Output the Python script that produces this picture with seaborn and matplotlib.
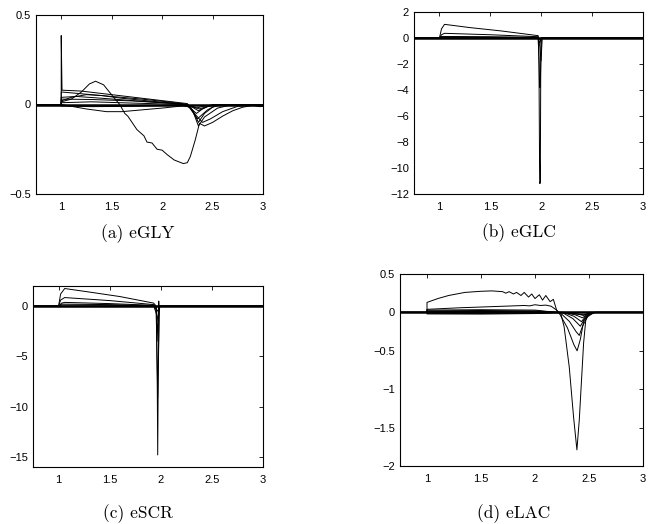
import numpy as np
import pandas as pd
import matplotlib
matplotlib.use("Agg")
import matplotlib.pyplot as plt
import seaborn as sns

# ---------------- data ----------------
panel_titles = ["(a) eGLY", "(b) eGLC", "(c) eSCR", "(d) eLAC"]

eGLY_x = [
    [0.75, 1.0, 1.0, 1.008, 1.2, 1.5, 1.8, 2.1, 2.25, 2.3, 2.36, 2.42, 2.55, 2.7, 3.0],
    [0.75, 1.0, 1.0, 1.1, 1.2, 1.28, 1.34, 1.42, 1.52, 1.58, 1.63, 1.66, 1.69, 1.75, 1.82,
     1.85, 1.9, 1.95, 2.0, 2.05, 2.12, 2.21, 2.25, 2.28, 2.33, 2.37, 2.42, 2.5, 2.6, 2.7,
     2.8, 2.9, 2.97, 3.0],
    [0.75, 1.0, 1.0, 1.2, 1.5, 1.8, 2.1, 2.25, 2.31, 2.36, 2.42, 2.5, 2.6, 3.0],
    [0.75, 1.0, 1.0, 1.1, 1.25, 1.4, 1.6, 1.9, 2.2, 2.28, 2.34, 2.4, 2.5, 3.0],
    [0.75, 1.0, 1.0, 1.15, 1.4, 1.7, 2.0, 2.25, 2.3, 2.35, 2.45, 2.55, 3.0],
    [0.75, 1.0, 1.1, 1.25, 1.45, 1.6, 1.8, 2.0, 2.2, 2.3, 2.36, 2.45, 2.6, 3.0],
    [0.75, 1.0, 1.0, 1.3, 1.7, 2.2, 2.3, 2.37, 2.45, 2.55, 3.0],
    [0.75, 1.0, 1.0, 1.3, 1.7, 2.2, 2.29, 2.34, 2.42, 2.55, 3.0],
    [0.75, 1.0, 1.0, 1.3, 1.7, 2.0, 2.25, 2.32, 2.4, 2.48, 2.6, 2.75, 3.0],
]
eGLY_y = [
    [0, 0, 0.385, 0.08, 0.075, 0.055, 0.035, 0.015, 0.005, -0.03, -0.12, -0.07, -0.02, 0, 0],
    [0, 0, 0.015, 0.03, 0.07, 0.115, 0.13, 0.11, 0.04, 0.0, -0.05, -0.065, -0.09, -0.14, -0.175,
     -0.21, -0.215, -0.25, -0.255, -0.28, -0.31, -0.33, -0.325, -0.29, -0.195, -0.105, -0.12,
     -0.1, -0.065, -0.035, -0.015, -0.005, -0.012, -0.01],
    [0, 0, 0.07, 0.06, 0.045, 0.03, 0.012, 0.0, -0.04, -0.1, -0.05, -0.015, 0, 0],
    [0, 0, 0.02, 0.04, 0.055, 0.05, 0.035, 0.018, 0.003, -0.02, -0.05, -0.025, 0, 0],
    [0, 0, 0.04, 0.045, 0.035, 0.022, 0.01, 0.0, -0.04, -0.08, -0.03, 0, 0],
    [0, 0, -0.01, -0.025, -0.04, -0.04, -0.03, -0.02, -0.008, -0.015, -0.035, -0.01, 0, 0],
    [0, 0, 0.01, 0.015, 0.008, 0.0, -0.01, -0.025, -0.01, 0, 0],
    [0, 0, -0.008, -0.012, -0.01, -0.003, -0.012, -0.02, -0.008, 0, 0],
    [0, 0, 0.03, 0.028, 0.02, 0.01, 0.0, -0.05, -0.1, -0.08, -0.04, -0.01, 0],
]

eGLC_x = [
    [0.75, 1.0, 1.02, 1.05, 1.3, 1.6, 1.97, 1.978, 1.983, 1.987, 1.991, 1.995, 2.0, 3.0],
    [0.75, 1.0, 1.02, 1.05, 1.5, 1.97, 1.978, 1.984, 1.99, 1.996, 2.0, 3.0],
    [0.75, 1.0, 1.02, 1.5, 1.97, 1.985, 1.998, 2.01, 3.0],
    [0.75, 1.0, 1.02, 1.5, 1.97, 1.985, 2.0, 3.0],
    [0.75, 1.0, 1.02, 1.5, 1.97, 1.99, 2.005, 3.0],
]
eGLC_y = [
    [0, 0, 0.7, 1.05, 0.8, 0.55, 0.18, -2.0, -9.0, -11.2, -11.0, -3.0, 0, 0],
    [0, 0, 0.25, 0.36, 0.25, 0.1, -1.5, -3.8, -3.8, -1.5, 0, 0],
    [0, 0, 0.12, 0.1, 0.05, -0.6, -1.75, 0, 0],
    [0, 0, 0.05, 0.04, 0.02, -0.4, 0, 0],
    [0, 0, 0.02, 0.015, 0.01, -0.15, 0, 0],
]

eSCR_x = [
    [0.75, 1.0, 1.02, 1.06, 1.3, 1.6, 1.93, 1.955, 1.965, 1.97, 1.975, 1.985, 3.0],
    [0.75, 1.0, 1.02, 1.06, 1.5, 1.93, 1.955, 1.97, 1.985, 3.0],
    [0.75, 1.0, 1.03, 1.06, 1.5, 1.93, 1.96, 1.972, 1.98, 1.985, 1.99, 3.0],
    [0.75, 1.0, 1.03, 1.5, 1.93, 1.965, 1.975, 1.99, 3.0],
    [0.75, 1.0, 1.03, 1.5, 1.93, 1.97, 1.99, 3.0],
]
eSCR_y = [
    [0, 0, 1.2, 1.75, 1.4, 0.95, 0.3, 0, -7.0, -14.8, -7.0, 0, 0],
    [0, 0, 0.6, 0.85, 0.55, 0.15, 0, -9.1, 0, 0],
    [0, 0, 0.3, 0.37, 0.25, 0.08, -0.5, -3.5, 0.5, -0.5, 0, 0],
    [0, 0, 0.2, 0.15, 0.05, -1.0, -1.5, 0, 0],
    [0, 0, 0.1, 0.08, 0.02, -0.5, 0, 0],
]

eLAC_x = [
    [0.75, 1.0, 1.0, 1.1, 1.2, 1.35, 1.5, 1.6, 1.7, 1.73, 1.76, 1.8, 1.83, 1.87, 1.9, 1.94,
     1.97, 2.0, 2.04, 2.07, 2.1, 2.14, 2.17, 2.2, 2.22, 3.0],
    [0.75, 1.0, 1.0, 1.3, 1.6, 1.8, 1.9, 1.95, 2.0, 2.05, 2.1, 2.15, 2.2, 2.22, 2.35, 2.45, 2.55, 3.0],
    [0.75, 1.0, 1.0, 1.5, 2.0, 2.2, 2.24, 2.27, 2.317, 2.357, 2.388, 2.41, 2.43, 2.45, 2.47, 2.5, 3.0],
    [0.75, 1.0, 1.0, 1.5, 2.0, 2.22, 2.3, 2.36, 2.39, 2.42, 2.45, 2.5, 3.0],
    [0.75, 1.0, 1.0, 1.5, 2.0, 2.23, 2.32, 2.38, 2.41, 2.44, 2.5, 2.55, 3.0],
    [0.75, 1.0, 1.0, 1.5, 2.0, 2.25, 2.35, 2.42, 2.46, 2.55, 3.0],
    [0.75, 1.0, 1.0, 1.5, 2.0, 2.26, 2.36, 2.43, 2.47, 2.55, 3.0],
    [0.75, 1.0, 1.0, 1.5, 2.0, 2.27, 2.37, 2.44, 2.48, 2.56, 3.0],
    [0.75, 1.0, 1.0, 1.5, 2.0, 2.28, 2.38, 2.45, 2.49, 2.57, 3.0],
]
eLAC_y = [
    [0, 0, 0.13, 0.18, 0.22, 0.26, 0.275, 0.28, 0.27, 0.25, 0.27, 0.24, 0.26, 0.22, 0.26,
     0.2, 0.24, 0.18, 0.23, 0.16, 0.22, 0.14, 0.17, 0.03, 0.0, 0],
    [0, 0, 0.04, 0.06, 0.075, 0.085, 0.09, 0.085, 0.1, 0.09, 0.095, 0.08, 0.03, 0, -0.02, -0.03, 0, 0],
    [0, 0, 0.03, 0.035, 0.03, 0.0, -0.02, -0.19, -0.71, -1.36, -1.79, -1.4, -0.9, -0.4, -0.1, 0, 0],
    [0, 0, 0.02, 0.025, 0.02, 0.0, -0.2, -0.42, -0.5, -0.35, -0.12, 0, 0],
    [0, 0, 0.01, 0.012, 0.01, 0.0, -0.12, -0.25, -0.3, -0.18, -0.02, 0, 0],
    [0, 0, -0.01, -0.012, -0.01, 0.0, -0.08, -0.18, -0.08, 0, 0],
    [0, 0, -0.02, -0.022, -0.015, 0.0, -0.05, -0.12, -0.05, 0, 0],
    [0, 0, 0.005, 0.006, 0.004, 0.0, -0.03, -0.07, -0.03, 0, 0],
    [0, 0, -0.005, -0.006, -0.004, 0.0, -0.015, -0.04, -0.015, 0, 0],
]

zero_x = [0.75, 3.0]
zero_y = [0.0, 0.0]

x_ticks = [1, 1.5, 2, 2.5, 3]
x_tick_labels = ["1", "1.5", "2", "2.5", "3"]
ylims = [(-0.5, 0.5), (-12, 2), (-16, 2), (-2, 0.5)]
y_ticks = [[-0.5, 0, 0.5], [-12, -10, -8, -6, -4, -2, 0, 2], [-15, -10, -5, 0], [-2, -1.5, -1, -0.5, 0, 0.5]]
y_tick_labels = [["\u22120.5", "0", "0.5"],
                 ["\u221212", "\u221210", "\u22128", "\u22126", "\u22124", "\u22122", "0", "2"],
                 ["\u221215", "\u221210", "\u22125", "0"],
                 ["\u22122", "\u22121.5", "\u22121", "\u22120.5", "0", "0.5"]]

# ---------------- style ----------------
sns.set_style("white")
plt.rcParams["font.family"] = ["Liberation Sans", "DejaVu Sans"]

W, H = 648, 524
fig = plt.figure(figsize=(W / 100, H / 100), dpi=100)

# axes boxes in pixels: left, top, right, bottom
boxes = [(36, 15, 263, 194), (414, 12, 643, 194), (33, 286, 263, 467), (400, 274, 643, 466)]
captions_px = [(138, 234), (519, 233), (138, 514), (514, 514)]

all_x = [eGLY_x, eGLC_x, eSCR_x, eLAC_x]
all_y = [eGLY_y, eGLC_y, eSCR_y, eLAC_y]

for i in range(4):
    l, t, r, b = boxes[i]
    ax = fig.add_axes([l / W, 1 - b / H, (r - l) / W, (b - t) / H])
    rows = []
    for k, (xs, ys) in enumerate(zip(all_x[i], all_y[i])):
        for j, (xv, yv) in enumerate(zip(xs, ys)):
            rows.append({"x": xv, "y": yv, "curve": k, "order": j})
    df = pd.DataFrame(rows)
    sns.lineplot(data=df, x="x", y="y", units="curve", estimator=None, sort=False,
                 color="black", linewidth=0.7, ax=ax, legend=False)
    zdf = pd.DataFrame({"x": zero_x, "y": zero_y})
    sns.lineplot(data=zdf, x="x", y="y", estimator=None, sort=False,
                 color="black", linewidth=1.8, ax=ax, legend=False)
    ax.set_xlim(0.75, 3)
    ax.set_ylim(*ylims[i])
    ax.set_xticks(x_ticks)
    ax.set_xticklabels(x_tick_labels)
    ax.set_yticks(y_ticks[i])
    ax.set_yticklabels(y_tick_labels[i])
    ax.set_xlabel("")
    ax.set_ylabel("")
    ax.tick_params(direction="in", length=3, width=0.6, top=True, right=True,
                   labelsize=8, colors="black")
    ax.tick_params(axis="x", pad=6)
    ax.tick_params(axis="y", pad=3.5)
    for s in ax.spines.values():
        s.set_visible(True)
        s.set_color("black")
        s.set_linewidth(0.8)
    cx, cy = captions_px[i]
    fig.text(cx / W, 1 - cy / H, panel_titles[i], ha="center", va="center",
             fontsize=12.5, family=["cmr10", "DejaVu Serif"], color="black")

fig.savefig("out.png", dpi=100)
